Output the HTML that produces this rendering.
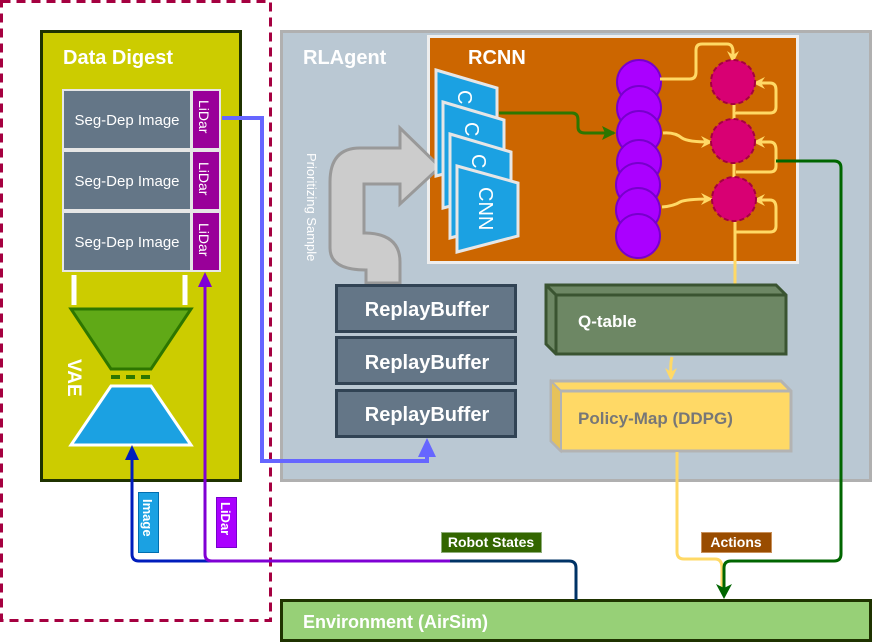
<!DOCTYPE html>
<html><head><meta charset="utf-8"><style>
html,body{margin:0;padding:0;background:#fff;}
svg{display:block;font-family:"Liberation Sans",sans-serif;}
</style></head><body>
<svg width="873" height="643" viewBox="0 0 873 643" xmlns="http://www.w3.org/2000/svg">
<defs>
<marker id="ay" markerWidth="12" markerHeight="12" refX="9" refY="6" orient="auto" markerUnits="userSpaceOnUse"><path d="M0,0 L12,6 L0,12 L4,6Z" fill="#ffd966"/></marker>
</defs>
<rect x="1.5" y="1.5" width="269" height="619" fill="none" stroke="#a50040" stroke-width="3" stroke-dasharray="9,6"/>
<rect x="41.5" y="31.5" width="199" height="449" fill="#cccc00" stroke="#1f3300" stroke-width="3"/>
<text x="63" y="64" fill="#fff" font-size="20" font-weight="bold">Data Digest</text>
<rect x="62" y="89" width="159" height="183" fill="#e6e6e6"/>
<g font-size="15" fill="#fff">
<rect x="64" y="91" width="126" height="57" fill="#647687"/><text x="127" y="125" text-anchor="middle">Seg-Dep Image</text>
<rect x="64" y="152" width="126" height="57" fill="#647687"/><text x="127" y="186" text-anchor="middle">Seg-Dep Image</text>
<rect x="64" y="213" width="126" height="57" fill="#647687"/><text x="127" y="247" text-anchor="middle">Seg-Dep Image</text>
<rect x="193" y="91" width="26" height="57" fill="#990099"/>
<rect x="193" y="152" width="26" height="57" fill="#990099"/>
<rect x="193" y="213" width="26" height="57" fill="#990099"/>
<text transform="translate(199,100) rotate(90)" font-size="14">LiDar</text>
<text transform="translate(199,162) rotate(90)" font-size="14">LiDar</text>
<text transform="translate(199,223) rotate(90)" font-size="14">LiDar</text>
</g>
<line x1="74" y1="275" x2="74" y2="305" stroke="#fff" stroke-width="5"/>
<line x1="185" y1="275" x2="185" y2="305" stroke="#fff" stroke-width="5"/>
<polygon points="71,309 191,309 151,369 111,369" fill="#60a917" stroke="#2d7600" stroke-width="3"/>
<line x1="111" y1="377" x2="151" y2="377" stroke="#2d7600" stroke-width="4" stroke-dasharray="9,6"/>
<polygon points="111,386 151,386 191,445 71,445" fill="#1ba1e2" stroke="#fff" stroke-width="3"/>
<text transform="translate(68,359) rotate(90)" fill="#fff" font-size="19" font-weight="bold">VAE</text>
<rect x="281.5" y="31.5" width="589" height="449" fill="#bac8d3" stroke="#b0b0b0" stroke-width="3"/>
<text x="303" y="64" fill="#fff" font-size="20" font-weight="bold">RLAgent</text>
<text transform="translate(307,153) rotate(90)" fill="#fff" font-size="13">Prioritizing Sample</text>
<rect x="428.5" y="36.5" width="369" height="226" fill="#cc6600" stroke="#eeeeee" stroke-width="3"/>
<text x="468" y="64" fill="#fff" font-size="20" font-weight="bold">RCNN</text>
<path d="M366,283 L400,283 L400,262 Q400,234 366,233 L364,233 L364,184 L400,184 L400,204 L440,167 L400,128 L400,148 L360,148 Q330,148 330,182 L330,248 Q330,270 366,270 Z" fill="#cccccc" stroke="#999" stroke-width="3"/>
<g stroke="#e6e6e6" stroke-width="3" fill="#1ba1e2">
<polygon points="436,70 497,88 497,160 436,176"/>
<polygon points="443,102 504,120 504,192 443,208"/>
<polygon points="450,134 511,152 511,222 450,238"/>
<polygon points="457,166 518,183 518,236 457,252"/>
</g>
<g fill="#fff" font-size="20">
<text transform="translate(458,90) rotate(90)">C</text>
<text transform="translate(465,122) rotate(90)">C</text>
<text transform="translate(472,154) rotate(90)">C</text>
<text transform="translate(479,187) rotate(90)">CNN</text>
</g>
<path d="M499,113 L572,113 Q578,113 578,120 L578,127 Q578,133 585,133 L614,133" fill="none" stroke="#2d7600" stroke-width="3"/>
<path d="M616,133 L602,126 L605,133 L602,140Z" fill="#2d7600"/>
<g fill="#aa00ff" stroke="#7700cc" stroke-width="2">
<circle cx="639" cy="82" r="22"/><circle cx="639" cy="108" r="22"/><circle cx="639" cy="133" r="22"/>
<circle cx="639" cy="162" r="22"/><circle cx="638" cy="185" r="22"/><circle cx="638" cy="210" r="22"/><circle cx="638" cy="236" r="22"/>
</g>
<g fill="none" stroke="#ffd966" stroke-width="3">
<path d="M660,79 L690,79 Q696,79 696,72 L696,50 Q696,44 702,44 L727,44 Q733,44 733,52 L733,60" marker-end="url(#ay)"/>
<path d="M663,133 Q675,132 682,138 Q688,142 710,142" marker-end="url(#ay)"/>
<path d="M662,207 Q674,206 680,202 Q686,199 710,199" marker-end="url(#ay)"/>
<path d="M736,112 L736,113 L770,113 Q776,113 776,107 L776,90 Q776,83 770,83 L756,83" marker-end="url(#ay)"/>
<path d="M736,172 L770,172 Q776,172 776,166 L776,150 Q776,142 770,142 L756,142" marker-end="url(#ay)"/>
<path d="M736,232 L770,232 Q776,232 776,226 L776,208 Q776,200 770,200 L756,200" marker-end="url(#ay)"/>
<line x1="734" y1="100" x2="734" y2="125"/>
<line x1="734" y1="160" x2="734" y2="180"/>
<line x1="735" y1="220" x2="735" y2="285"/>
</g>
<g fill="#d80073" stroke="#a50040" stroke-width="2" stroke-dasharray="5,3">
<circle cx="733" cy="82" r="22"/><circle cx="733" cy="141" r="22"/><circle cx="734" cy="199" r="22"/>
</g>
<g fill="#647687" stroke="#314354" stroke-width="3">
<rect x="336.5" y="285.5" width="179" height="46"/>
<rect x="336.5" y="337.5" width="179" height="46"/>
<rect x="336.5" y="390.5" width="179" height="46"/>
</g>
<g fill="#fff" font-size="20" font-weight="bold" text-anchor="middle">
<text x="427" y="316">ReplayBuffer</text>
<text x="427" y="369">ReplayBuffer</text>
<text x="427" y="421">ReplayBuffer</text>
</g>
<polygon points="546,285 776,285 786,295 786,354 556,354 546,344" fill="#6d8764" stroke="#3a5431" stroke-width="3"/>
<polyline points="546,285 556,295 786,295" fill="none" stroke="#3a5431" stroke-width="3"/>
<line x1="556" y1="295" x2="556" y2="354" stroke="#3a5431" stroke-width="3"/>
<text x="578" y="327" fill="#fff" font-size="17" font-weight="bold">Q-table</text>
<path d="M672,357 Q670,365 671,376" fill="none" stroke="#ffd966" stroke-width="3"/>
<path d="M671,381 L665,368 L671,372 L677,368Z" fill="#ffd966"/>
<polygon points="551,381 781,381 791,391 791,451 561,451 551,441" fill="#ffd966" stroke="#b3b3b3" stroke-width="3"/>
<polygon points="551,381 561,391 561,451 551,441" fill="#e6c25a" stroke="#b3b3b3" stroke-width="2"/>
<line x1="561" y1="391" x2="791" y2="391" stroke="#b3b3b3" stroke-width="3"/>
<text x="578" y="424" fill="#777" font-size="17" font-weight="bold">Policy-Map (DDPG)</text>
<rect x="281.5" y="600.5" width="589" height="40" fill="#97d077" stroke="#1f3300" stroke-width="3"/>
<text x="303" y="628" fill="#fff" font-size="18" font-weight="bold">Environment (AirSim)</text>
<path d="M222,118 L262,118 L262,461 L427,461 L427,452" fill="none" stroke="#6666ff" stroke-width="4"/>
<path d="M427,438 L418,457 L436,457Z" fill="#6666ff"/>
<path d="M132,458 L132,554 Q132,561 139,561 L450,561" fill="none" stroke="#001dbc" stroke-width="3"/>
<path d="M132,445 L125,460 L139,460Z" fill="#001dbc"/>
<path d="M205,284 L205,554 Q205,561 212,561 L450,561" fill="none" stroke="#7f00d4" stroke-width="3"/>
<path d="M205,272 L198,287 L212,287Z" fill="#7f00d4"/>
<path d="M450,561 L569,561 Q576,561 576,568 L576,600" fill="none" stroke="#003366" stroke-width="3"/>
<path d="M677,452 L677,552 Q677,559 684,559 L715,559 Q722,559 722,568 L722,592" fill="none" stroke="#ffd966" stroke-width="3"/>
<path d="M776,161 L834,161 Q841,161 841,168 L841,554 Q841,561 834,561 L731,561 Q724,561 724,568 L724,590" fill="none" stroke="#006600" stroke-width="3"/>
<path d="M724,599 L716,584 L724,588 L732,584Z" fill="#006600"/>
<rect x="138.5" y="492.5" width="20" height="60" fill="#1ba1e2" stroke="#006eaf"/>
<text transform="translate(143,499) rotate(90)" fill="#fff" font-size="13" font-weight="bold">Image</text>
<rect x="216.5" y="497.5" width="20" height="50" fill="#aa00ff" stroke="#7700cc"/>
<text transform="translate(221,502) rotate(90)" fill="#fff" font-size="13" font-weight="bold">LiDar</text>
<rect x="441.5" y="532.5" width="100" height="20" fill="#336600" stroke="#8fae7a"/>
<text x="491" y="547" fill="#fff" font-size="14" font-weight="bold" text-anchor="middle">Robot States</text>
<rect x="701.5" y="532.5" width="70" height="20" fill="#994c00" stroke="#c8905a"/>
<text x="736" y="547" fill="#fff" font-size="14" font-weight="bold" text-anchor="middle">Actions</text>
</svg>
</body></html>
